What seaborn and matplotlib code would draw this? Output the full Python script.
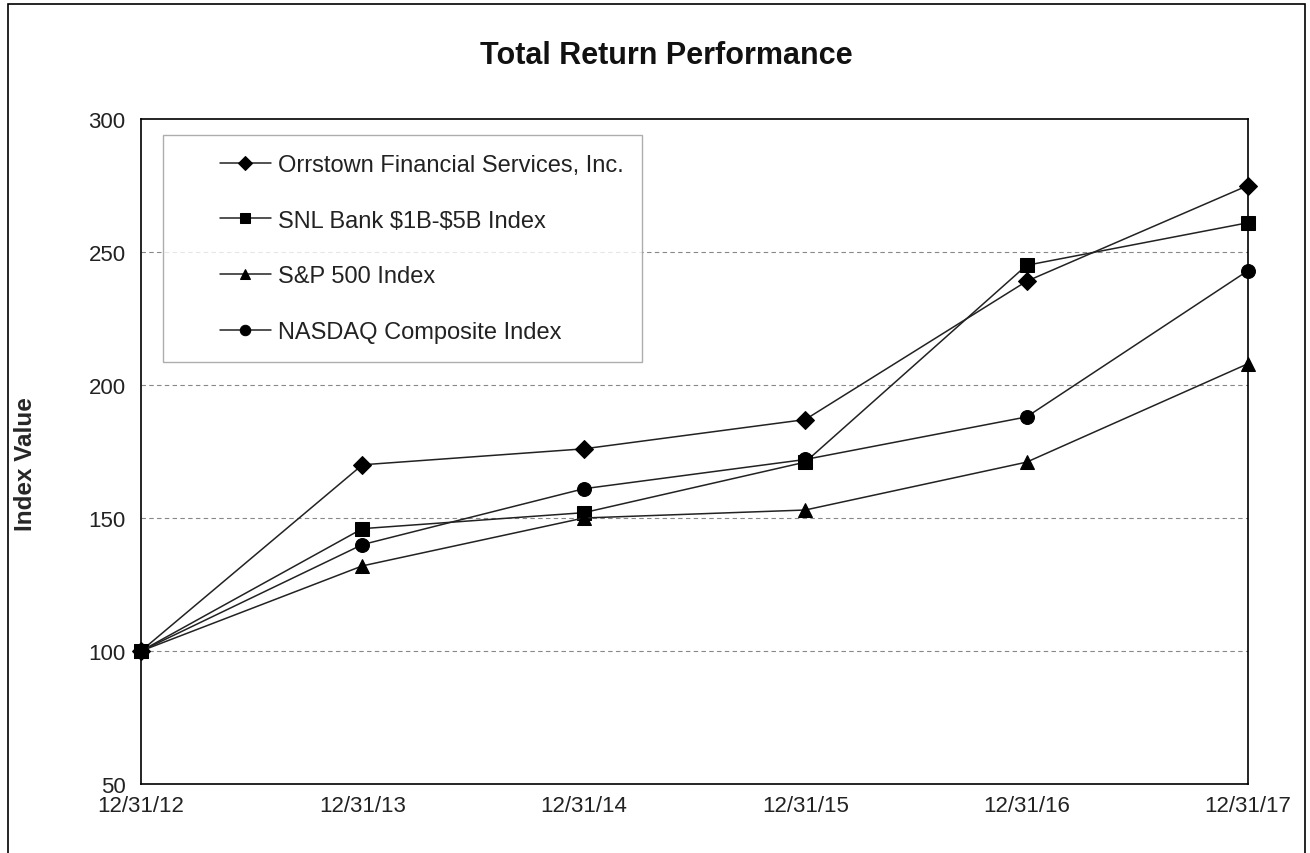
import matplotlib
matplotlib.use("Agg")
import matplotlib.pyplot as plt
import seaborn as sns
import pandas as pd
from matplotlib.patches import Rectangle
from matplotlib.legend_handler import HandlerLine2D
from matplotlib.lines import Line2D

# data
dates = ["12/31/12", "12/31/13", "12/31/14", "12/31/15", "12/31/16", "12/31/17"]
orrstown = [100, 170, 176, 187, 239, 275]
snl_bank = [100, 146, 152, 171, 245, 261]
sp500 = [100, 132, 150, 153, 171, 208]
nasdaq = [100, 140, 161, 172, 188, 243]

series_names = [
    "Orrstown Financial Services, Inc.",
    "SNL Bank \\$1B-\\$5B Index",
    "S&P 500 Index",
    "NASDAQ Composite Index",
]
series_values = [orrstown, snl_bank, sp500, nasdaq]
marker_shapes = ["D", "s", "^", "o"]
marker_sizes = [9, 10, 10, 10]

rows = []
for name, vals in zip(series_names, series_values):
    for i, v in enumerate(vals):
        rows.append({"pos": i, "value": v, "series": name})
df = pd.DataFrame(rows)

sns.set_style("white")
plt.rcParams["font.family"] = ["Liberation Sans", "DejaVu Sans"]

fig = plt.figure(figsize=(13.1, 8.54), dpi=100)
ax = fig.add_axes([141 / 1310, 1 - 785 / 854, (1248 - 141) / 1310, (785 - 120) / 854])

for name, mk, ms in zip(series_names, marker_shapes, marker_sizes):
    sub = df[df["series"] == name]
    sns.lineplot(data=sub, x="pos", y="value", ax=ax, color="#222222",
                 linewidth=1.1, marker=mk, markersize=ms,
                 markerfacecolor="black", markeredgecolor="black",
                 label=name, zorder=3, clip_on=False)

ax.set_xlim(0, len(dates) - 1)
ax.set_ylim(50, 300)
ax.set_xticks(range(len(dates)))
ax.set_xticklabels(dates)
ax.set_yticks([50, 100, 150, 200, 250, 300])
for y in [100, 150, 200, 250]:
    ax.axhline(y, color="#888888", linestyle=(0, (4, 3)), linewidth=0.8, zorder=1)

for s in ax.spines.values():
    s.set_visible(True)
    s.set_color("black")
    s.set_linewidth(1.2)
    s.set_zorder(4)

ax.tick_params(axis="x", direction="inout", length=14, width=1.2, labelsize=16, pad=1, colors="black")
ax.tick_params(axis="y", direction="out", length=7, width=1.2, labelsize=16, pad=4, colors="black")
for lab in ax.get_xticklabels() + ax.get_yticklabels():
    lab.set_color("#222222")

ax.set_xlabel("")
ax.set_ylabel("Index Value", fontsize=17.5, fontweight="bold")
ax.yaxis.set_label_coords(-0.094, 0.483)

# legend: shorter line set in from the left edge, like the original
handles, labels = ax.get_legend_handles_labels()
leg = ax.legend(handles, labels, loc="upper left", bbox_to_anchor=(0.02, 0.976), fontsize=17,
                frameon=True, fancybox=False, edgecolor="#999999",
                handlelength=3.75, labelspacing=1.43, borderpad=0.8,
                handletextpad=0.3, borderaxespad=0,
                handler_map={Line2D: HandlerLine2D(xpad=1.62)})
leg.get_frame().set_linewidth(1.0)
for t in leg.get_texts():
    t.set_color("#222222")
for h in leg.legend_handles:
    h.set_markersize(7.5)

fig.text(666 / 1310, 1 - 56 / 854, "Total Return Performance", ha="center", va="center",
         fontsize=22, fontweight="bold", color="#111111")

fig.patches.append(Rectangle((8 / 1310, -0.01), (1305 - 8) / 1310, 1 - 5 / 854 + 0.01,
                             transform=fig.transFigure, fill=False,
                             edgecolor="black", linewidth=1.2))

fig.savefig("out.png", dpi=100)
